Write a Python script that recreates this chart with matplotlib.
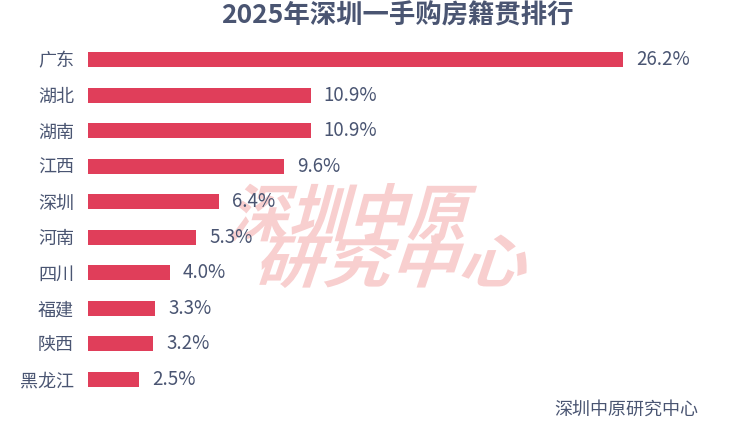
import numpy as np
import matplotlib
matplotlib.use("Agg")
import matplotlib.pyplot as plt
from matplotlib.textpath import TextPath
from matplotlib.patches import PathPatch
from matplotlib.path import Path
from matplotlib.font_manager import FontProperties
from matplotlib.transforms import Affine2D

plt.rcParams['font.family'] = ['Noto Sans CJK SC', 'DejaVu Sans']

provinces = ["广东", "湖北", "湖南", "江西", "深圳", "河南", "四川", "福建", "陕西", "黑龙江"]
shares = [26.2, 10.9, 10.9, 9.6, 6.4, 5.3, 4.0, 3.3, 3.2, 2.5]
title = "2025年深圳一手购房籍贯排行"
source = "深圳中原研究中心"
watermark_lines = ["深圳中原", "研究中心"]

W, H = 740, 434
text_color = "#4A5572"
bar_color = "#E03E5A"

fig = plt.figure(figsize=(W / 100, H / 100), dpi=100)
ax = fig.add_axes([88 / W, 1 - 397 / H, 535 / W, 355 / H])

# watermark: heavy skewed text drawn as paths, pixel boxes (left, top, right, bottom)
wm_boxes = [(228, 183, 477, 242), (253, 233, 527, 288)]
fp = FontProperties(family='Noto Sans CJK SC', weight='black')
for line, (x0, y0, x1, y1) in zip(watermark_lines, wm_boxes):
    tp = TextPath((0, 0), line, size=100, prop=fp)
    tp = Affine2D().skew_deg(16, 0).transform_path(tp)
    v = tp.vertices
    vmin, vmax = v.min(axis=0), v.max(axis=0)
    fx = x0 + (v[:, 0] - vmin[0]) / (vmax[0] - vmin[0]) * (x1 - x0)
    fy = (H - y1) + (v[:, 1] - vmin[1]) / (vmax[1] - vmin[1]) * (y1 - y0)
    path = Path(np.column_stack([fx / W, fy / H]), tp.codes)
    fig.add_artist(PathPatch(path, transform=fig.transFigure, facecolor="#F8CFCF",
                             edgecolor="none", zorder=0))

y = np.arange(len(provinces))
ax.barh(y, shares, height=0.42, color=bar_color, zorder=2)
for yi, v in zip(y, shares):
    ax.annotate(f"{v:.1f}%", (v, yi), xytext=(13, 0), textcoords="offset pixels",
                va="center", ha="left", fontsize=13.5, color=text_color,
                annotation_clip=False, zorder=3)

ax.set_xlim(0, 26.2)
ax.set_ylim(9.5, -0.5)
ax.set_yticks(y)
ax.set_yticklabels(provinces, fontsize=13, color=text_color)
ax.tick_params(axis="y", length=0, pad=10)
ax.set_xticks([])
for s in ax.spines.values():
    s.set_visible(False)
ax.patch.set_alpha(0)
ax.set_zorder(1)

fig.text(397 / W, 1 - 16 / H, title, ha="center", va="center", fontsize=19,
         fontweight="bold", color=text_color)
fig.text(698 / W, 1 - 410 / H, source, ha="right", va="center", fontsize=13,
         color=text_color)

fig.savefig("out.png", dpi=100)
